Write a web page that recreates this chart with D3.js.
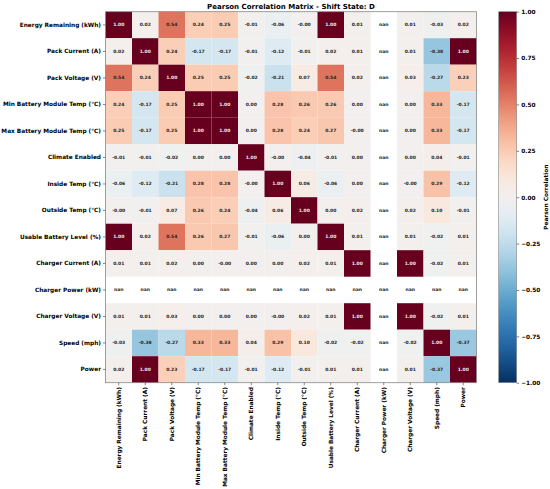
<!DOCTYPE html>
<html>
<head>
<meta charset="utf-8">
<script src="https://cdn.jsdelivr.net/npm/d3@7"></script>
<style>
  body { margin: 0; background: #fff; }
  text { font-family: "DejaVu Sans", sans-serif; font-weight: bold; }
</style>
</head>
<body>
<div id="chart"></div>
<script>
const labels = [
  "Energy Remaining (kWh)", "Pack Current (A)", "Pack Voltage (V)",
  "Min Battery Module Temp (°C)", "Max Battery Module Temp (°C)",
  "Climate Enabled", "Inside Temp (°C)", "Outside Temp (°C)",
  "Usable Battery Level (%)", "Charger Current (A)", "Charger Power (kW)",
  "Charger Voltage (V)", "Speed (mph)", "Power"
];

// correlation rows, null = nan
const matrix = [
  [1.00, 0.02, 0.54, 0.24, 0.25, -0.01, -0.06, -0.001, 1.00, 0.01, null, 0.01, -0.03, 0.02],
  [0.02, 1.00, 0.24, -0.17, -0.17, -0.01, -0.12, -0.01, 0.02, 0.01, null, 0.01, -0.38, 1.00],
  [0.54, 0.24, 1.00, 0.25, 0.25, -0.02, -0.21, 0.07, 0.54, 0.02, null, 0.03, -0.27, 0.23],
  [0.24, -0.17, 0.25, 1.00, 1.00, 0.00, 0.28, 0.26, 0.26, 0.00, null, 0.00, 0.33, -0.17],
  [0.25, -0.17, 0.25, 1.00, 1.00, 0.00, 0.28, 0.24, 0.27, -0.001, null, 0.00, 0.33, -0.17],
  [-0.01, -0.01, -0.02, 0.00, 0.00, 1.00, -0.001, -0.04, -0.01, 0.00, null, 0.00, 0.04, -0.01],
  [-0.06, -0.12, -0.21, 0.28, 0.28, -0.001, 1.00, 0.06, -0.06, 0.00, null, -0.001, 0.29, -0.12],
  [-0.001, -0.01, 0.07, 0.26, 0.24, -0.04, 0.06, 1.00, 0.00, 0.02, null, 0.02, 0.10, -0.01],
  [1.00, 0.02, 0.54, 0.26, 0.27, -0.01, -0.06, 0.00, 1.00, 0.01, null, 0.01, -0.02, 0.01],
  [0.01, 0.01, 0.02, 0.00, -0.001, 0.00, 0.00, 0.02, 0.01, 1.00, null, 1.00, -0.02, 0.01],
  [null, null, null, null, null, null, null, null, null, null, null, null, null, null],
  [0.01, 0.01, 0.03, 0.00, 0.00, 0.00, -0.001, 0.02, 0.01, 1.00, null, 1.00, -0.02, 0.01],
  [-0.03, -0.38, -0.27, 0.33, 0.33, 0.04, 0.29, 0.10, -0.02, -0.02, null, -0.02, 1.00, -0.37],
  [0.02, 1.00, 0.23, -0.17, -0.17, -0.01, -0.12, -0.01, 0.01, 0.01, null, 0.01, -0.37, 1.00]
];

const colorTicks = [1.00, 0.75, 0.50, 0.25, 0.00, -0.25, -0.50, -0.75, -1.00];

const W = 550, H = 489;
const HEAT = { LEFT: 105.5, TOP: 11.7, SIZE: 371 };
const CBAR = { LEFT: 498.7, WIDTH: 18 };

const svg = d3.select("#chart").append("svg")
  .attr("width", W).attr("height", H);

const x = d3.scaleBand().domain(d3.range(labels.length))
  .range([HEAT.LEFT, HEAT.LEFT + HEAT.SIZE]);
const y = d3.scaleBand().domain(d3.range(labels.length))
  .range([HEAT.TOP, HEAT.TOP + HEAT.SIZE]);

const color = (v) => d3.interpolateRdBu((1 - v) / 2);

const cells = [];
matrix.forEach((row, i) => row.forEach((v, j) => cells.push({ i, j, v })));

// Title
svg.append("text")
  .attr("x", HEAT.LEFT + HEAT.SIZE / 2)
  .attr("y", 8.5)
  .attr("text-anchor", "middle")
  .style("font-size", "7px")
  .text("Pearson Correlation Matrix - Shift State: D");

// Cells
svg.append("g").selectAll("rect")
  .data(cells)
  .join("rect")
  .attr("x", (d) => x(d.j))
  .attr("y", (d) => y(d.i))
  .attr("width", x.bandwidth())
  .attr("height", y.bandwidth())
  .attr("fill", (d) => d.v === null ? "none" : color(d.v));

// Annotations
const fmt = (v) => v === null ? "nan" : v.toFixed(2);

svg.append("g").selectAll("text")
  .data(cells)
  .join("text")
  .attr("x", (d) => x(d.j) + x.bandwidth() / 2)
  .attr("y", (d) => y(d.i) + y.bandwidth() / 2)
  .attr("text-anchor", "middle")
  .attr("dominant-baseline", "central")
  .style("font-size", "4.5px")
  .attr("fill", (d) => d.v !== null && d.v > 0.7 ? "#f4e8ea" : "#262626")
  .text((d) => fmt(d.v));

// Frame
svg.append("rect")
  .attr("x", HEAT.LEFT).attr("y", HEAT.TOP)
  .attr("width", HEAT.SIZE).attr("height", HEAT.SIZE)
  .attr("fill", "none").attr("stroke", "#888").attr("stroke-width", 0.8);

// Axes
const yAxis = svg.append("g")
  .attr("transform", `translate(${HEAT.LEFT},0)`)
  .call(d3.axisLeft(y).tickSize(2.5).tickPadding(2).tickFormat((i) => labels[i]));
yAxis.select(".domain").remove();
yAxis.selectAll("text").style("font-size", "5.8px").attr("fill", "#000");
yAxis.selectAll("line").attr("stroke", "#333").attr("stroke-width", 0.6);

const xAxis = svg.append("g")
  .attr("transform", `translate(0,${HEAT.TOP + HEAT.SIZE})`)
  .call(d3.axisBottom(x).tickSize(2.5).tickPadding(2).tickFormat((i) => labels[i]));
xAxis.select(".domain").remove();
xAxis.selectAll("text")
  .style("font-size", "5.8px")
  .attr("fill", "#000")
  .attr("text-anchor", "end")
  .attr("dominant-baseline", "central")
  .attr("dy", null)
  .attr("transform", "rotate(-90)")
  .attr("x", -4.5)
  .attr("y", 0);
xAxis.selectAll("line").attr("stroke", "#333").attr("stroke-width", 0.6);

// Colorbar
const cScale = d3.scaleLinear().domain([-1, 1])
  .range([HEAT.TOP + HEAT.SIZE, HEAT.TOP]);

const grad = svg.append("defs").append("linearGradient")
  .attr("id", "cbar-grad")
  .attr("x1", 0).attr("y1", 1).attr("x2", 0).attr("y2", 0);
grad.selectAll("stop")
  .data(d3.range(0, 1.0001, 0.05))
  .join("stop")
  .attr("offset", (t) => t)
  .attr("stop-color", (t) => color(t * 2 - 1));

svg.append("rect")
  .attr("x", CBAR.LEFT).attr("y", HEAT.TOP)
  .attr("width", CBAR.WIDTH).attr("height", HEAT.SIZE)
  .attr("fill", "url(#cbar-grad)")
  .attr("stroke", "#888").attr("stroke-width", 0.6);

const cAxis = svg.append("g")
  .attr("transform", `translate(${CBAR.LEFT + CBAR.WIDTH},0)`)
  .call(d3.axisRight(cScale).tickValues(colorTicks).tickSize(2.5).tickPadding(2)
    .tickFormat((v) => d3.format(".2f")(v).replace("-", "\u2212")));
cAxis.select(".domain").remove();
cAxis.selectAll("text").style("font-size", "5.8px").attr("fill", "#000");
cAxis.selectAll("line").attr("stroke", "#333").attr("stroke-width", 0.6);

svg.append("text")
  .attr("transform", `translate(546,${HEAT.TOP + HEAT.SIZE / 2}) rotate(-90)`)
  .attr("text-anchor", "middle")
  .attr("dominant-baseline", "central")
  .style("font-size", "5.8px")
  .text("Pearson Correlation");
</script>
</body>
</html>
